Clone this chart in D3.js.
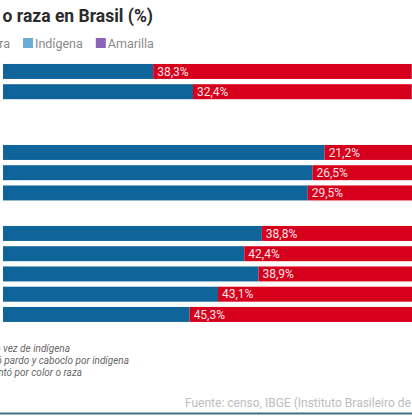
<!DOCTYPE html>
<html><head><meta charset="utf-8">
<script src="https://cdn.jsdelivr.net/npm/d3@7"></script>
<style>
html,body{margin:0;padding:0;background:#fff;}
svg{display:block;}
</style></head>
<body>
<svg id="chart" width="412" height="417"></svg>
<script>
// ---- data ----
const years = ["1872","1890","1900","1920","1940","1950","1960","1970","1980","1991","2000","2010","2022"];
const keys = ["Blanca","Parda","Negra","Indígena","Amarilla"];
const blanca   = [38.1, 44.0, null, null, 63.5, 61.7, 61.0, null, 54.2, 51.6, 53.7, 47.7, 43.5];
const parda    = [38.3, 32.4, null, null, 21.2, 26.5, 29.5, null, 38.8, 42.4, 38.9, 43.1, 45.3];
const negra    = [19.7, 14.6, null, null, 14.6, 11.0,  8.7, null,  5.9,  5.0,  6.2,  7.6, 10.2];
const indigena = [ 3.9,  9.0, null, null,  0.0,  0.0,  0.0, null,  0.0,  0.2,  0.4,  0.4,  0.6];
const amarilla = [ 0.0,  0.0, null, null,  0.6,  0.6,  0.7, null,  0.6,  0.4,  0.5,  1.1,  0.4];
const colors = ["#0f6499","#d6001c","#4a4a4a","#6aaed6","#8b62b5"];
const title = "Población por color o raza en Brasil (%)";
const notes = ["* Caboclo en vez de indígena","** Se contó pardo y caboclo por indígena","*** No se preguntó por color o raza"];
const source = "Fuente: censo, IBGE (Instituto Brasileiro de Geografia e Estatística)";

const rows = years.map((y,i)=>({year:y, Blanca:blanca[i], Parda:parda[i], Negra:negra[i], "Indígena":indigena[i], Amarilla:amarilla[i], has: blanca[i]!==null}));

const svg = d3.select("#chart");
svg.append("defs").append("clipPath").attr("id","clip")
  .append("rect").attr("x",3).attr("y",0).attr("width",409).attr("height",417);

const x = d3.scaleLinear().domain([0,100]).range([-104,571]);
const y = d3.scaleBand().domain(years).range([58.7,327.2]).padding(0.26);
const color = d3.scaleOrdinal().domain(keys).range(colors);

const stacked = d3.stack().keys(keys).value((d,k)=>d[k]||0)(rows.filter(r=>r.has));

const g = svg.append("g").attr("clip-path","url(#clip)");
g.selectAll("g.layer").data(stacked).join("g").attr("class","layer")
  .attr("fill",d=>color(d.key))
  .selectAll("rect").data(d=>d).join("rect")
  .attr("x",d=>x(d[0])).attr("width",d=>Math.max(0,x(d[1])-x(d[0])))
  .attr("y",d=>y(d.data.year)).attr("height",y.bandwidth());

// labels for Parda segment
const pardaLayer = stacked.find(s=>s.key==="Parda");
g.selectAll("text.lab").data(pardaLayer).join("text").attr("class","lab")
  .attr("x",d=>x(d[0])+4).attr("y",d=>y(d.data.year)+y.bandwidth()/2+4.2)
  .attr("fill","#fbe3e6").attr("font-family","Roboto, sans-serif").attr("font-size",12)
  .text(d=>d3.format(".1f")(d.data.Parda).replace(".",",")+"%");

// title
svg.append("text").attr("x",153).attr("y",22).attr("text-anchor","end")
  .attr("font-family","Roboto, sans-serif").attr("font-weight",700).attr("font-size",17.5)
  .attr("fill","#2b2b2b").text(title);

// legend
const lg = svg.append("g").attr("font-family","Roboto, sans-serif").attr("font-size",12.5).attr("fill","#8a8a8a");
const tmp = lg.append("text").attr("visibility","hidden");
const widths = keys.map(k=>{tmp.text(k); return tmp.node().getComputedTextLength();});
tmp.remove();
const idx = keys.indexOf("Indígena");
const pos = []; pos[idx] = 23;
for (let i=idx+1;i<keys.length;i++) pos[i] = pos[i-1] + 10 + 2 + widths[i-1] + 13;
for (let i=idx-1;i>=0;i--) pos[i] = pos[i+1] - 13 - widths[i] - 2 - 10;
keys.forEach((k,i)=>{
  lg.append("rect").attr("x",pos[i]).attr("y",38).attr("width",10).attr("height",10).attr("fill",color(k));
  lg.append("text").attr("x",pos[i]+12).attr("y",47.5).text(k);
});

// footnotes (right ends at known positions)
const noteEnds = [70,129,82];
svg.selectAll("text.note").data(notes).join("text").attr("class","note")
  .attr("x",(d,i)=>noteEnds[i]).attr("y",(d,i)=>352+i*12).attr("text-anchor","end")
  .attr("font-family","Roboto, sans-serif").attr("font-style","italic").attr("font-size",10)
  .attr("fill","#666").text(d=>d);

// source
svg.append("text").attr("x",185).attr("y",407)
  .attr("font-family","Roboto, sans-serif").attr("font-size",12).attr("fill","#bdbdbd").text(source);

// bottom rule
svg.append("line").attr("x1",0).attr("x2",412).attr("y1",413.5).attr("y2",413.5)
  .attr("stroke","#3d7480").attr("stroke-width",2);
</script>
</body></html>
